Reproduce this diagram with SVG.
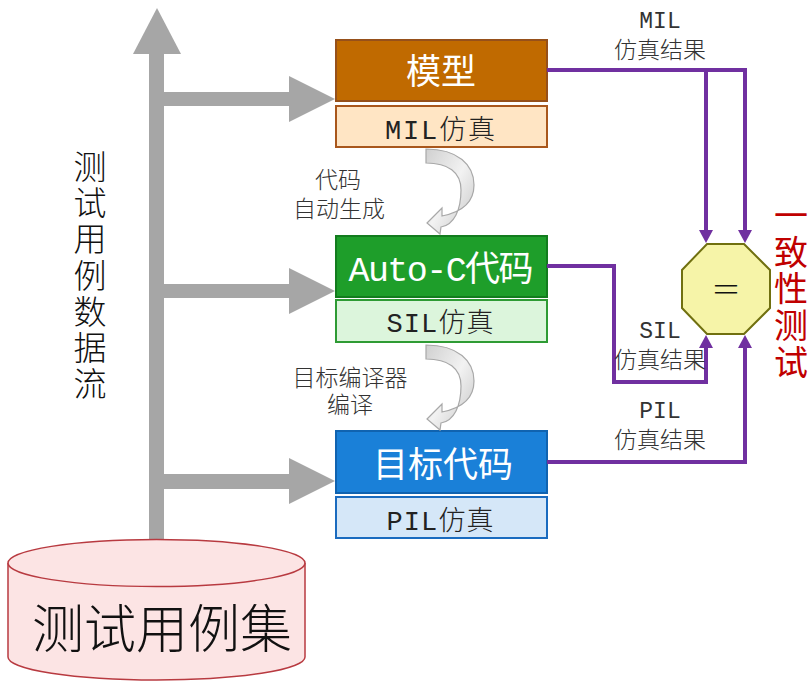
<svg xmlns="http://www.w3.org/2000/svg" width="809" height="682" viewBox="0 0 809 682">
<defs>
<style>
.t{font-family:"Liberation Mono","Noto Sans CJK SC",monospace;text-anchor:middle}
.lbl{font-size:23px;fill:#333;font-weight:300}
.big{font-size:35px;fill:#fff}
.sub{font-size:27px;fill:#222;font-weight:300}
.vt{font-size:33px;fill:#111;font-weight:300}
.rd{font-size:34px;fill:#c00000}
.pl{fill:none;stroke:#7030a0;stroke-width:4}
.flow{fill:#a6a6a6}
.curv{fill:url(#cg);stroke:#a8a8a8;stroke-width:1.2}
</style>
<linearGradient id="cg" x1="0" y1="0" x2="1" y2="1">
<stop offset="0" stop-color="#d0d0d0"/>
<stop offset="0.5" stop-color="#f2f2f2"/>
<stop offset="1" stop-color="#c4c4c4"/>
</linearGradient>
</defs>

<g id="flow-arrows">
<rect class="flow" x="149" y="52" width="15" height="490"/>
<polygon class="flow" points="133,54 157,8 181,54"/>
<rect class="flow" x="164" y="92" width="126" height="14"/>
<polygon class="flow" points="289,76 335,99 289,122"/>
<rect class="flow" x="164" y="284" width="126" height="14"/>
<polygon class="flow" points="289,268 335,291 289,314"/>
<rect class="flow" x="164" y="474" width="126" height="15"/>
<polygon class="flow" points="289,458 335,481 289,504"/>
</g>

<g id="flow-label">
<text class="t vt" x="90" y="179">测</text>
<text class="t vt" x="90" y="215">试</text>
<text class="t vt" x="90" y="251">用</text>
<text class="t vt" x="90" y="288">例</text>
<text class="t vt" x="90" y="324">数</text>
<text class="t vt" x="90" y="360">据</text>
<text class="t vt" x="90" y="396">流</text>
</g>

<g id="testset">
<path d="M8,563 L8,657 A148.5,23 0 0 0 305,657 L305,563" fill="#fce4e4" stroke="#b83a40" stroke-width="1.5"/>
<ellipse cx="156.5" cy="563" rx="148.5" ry="23.5" fill="#fce4e4" stroke="#b83a40" stroke-width="1.5"/>
<text class="t" font-size="52" font-weight="300" fill="#111" x="162" y="648">测试用例集</text>
</g>

<g id="model">
<rect x="336" y="40" width="211" height="61" fill="#c06a00" stroke="#96501a" stroke-width="2"/>
<text class="t big" x="441" y="84">模型</text>
</g>
<g id="mil">
<rect x="336" y="106" width="211" height="41" fill="#ffe5c4" stroke="#a9571c" stroke-width="2"/>
<text class="t sub" x="440" y="139" textLength="110">MIL仿真</text>
</g>

<g id="autoc">
<rect x="336" y="236" width="211" height="61" fill="#1e9e2a" stroke="#137c1e" stroke-width="2"/>
<text class="t big" x="441" y="281" textLength="185" font-size="31">Auto-C代码</text>
</g>
<g id="sil">
<rect x="336" y="300" width="211" height="42" fill="#dcf5dc" stroke="#2e9b34" stroke-width="2"/>
<text class="t sub" x="440" y="332" textLength="107">SIL仿真</text>
</g>

<g id="target">
<rect x="336" y="431" width="211" height="62" fill="#1a80d8" stroke="#1063b0" stroke-width="2"/>
<text class="t big" x="443" y="477" font-size="36">目标代码</text>
</g>
<g id="pil">
<rect x="336" y="497" width="211" height="41" fill="#d5e7f8" stroke="#1a6bbf" stroke-width="2"/>
<text class="t sub" x="440" y="530" textLength="107">PIL仿真</text>
</g>

<g id="codegen">
<path class="curv" d="M426,149 C458,149 474,165 474,185 C474,203 462,212 442,216 L442,208 L427,223 L440,234 L441,227 C454,225 461,210 461,190 C461,172 448,163 426,163 Z"/>
<text class="t lbl" x="338" y="188">代码</text>
<text class="t lbl" x="339" y="217">自动生成</text>
</g>

<g id="compile">
<path class="curv" d="M426,345 C458,345 474,361 474,381 C474,399 462,408 442,412 L442,404 L427,419 L440,430 L441,423 C454,421 461,406 461,386 C461,368 448,359 426,359 Z"/>
<text class="t lbl" x="350" y="386">目标编译器</text>
<text class="t lbl" x="350" y="413">编译</text>
</g>

<g id="equal">
<polygon points="707,244 744,244 770,270 770,308 744,334 707,334 682,308 682,270" fill="#f6f4a8" stroke="#707010" stroke-width="2"/>
<text x="726" y="300" font-family="Noto Sans CJK SC,sans-serif" font-size="30" font-weight="300" text-anchor="middle" fill="#111">＝</text>
</g>

<g id="consistency">
<text class="t rd" x="791" y="228">一</text>
<text class="t rd" x="791" y="265">致</text>
<text class="t rd" x="791" y="301">性</text>
<text class="t rd" x="791" y="338">测</text>
<text class="t rd" x="791" y="375">试</text>
</g>

<g id="connectors">
<path class="pl" d="M547,70 L745,70 L745,231"/>
<path class="pl" d="M706,70 L706,231"/>
<polygon points="699,230 713,230 706,243" fill="#7030a0"/>
<polygon points="738,230 752,230 745,243" fill="#7030a0"/>
<path class="pl" d="M547,266 L614,266 L614,382 L706,382 L706,347"/>
<polygon points="699,348 713,348 706,335" fill="#7030a0"/>
<path class="pl" d="M547,462 L745,462 L745,347"/>
<polygon points="738,348 752,348 745,335" fill="#7030a0"/>
</g>

<g id="result-labels">
<text class="t lbl" x="660" y="28">MIL</text>
<text class="t lbl" x="660" y="58">仿真结果</text>
<text class="t lbl" x="660" y="338">SIL</text>
<text class="t lbl" x="660" y="368">仿真结果</text>
<text class="t lbl" x="660" y="418">PIL</text>
<text class="t lbl" x="660" y="448">仿真结果</text>
</g>
</svg>
